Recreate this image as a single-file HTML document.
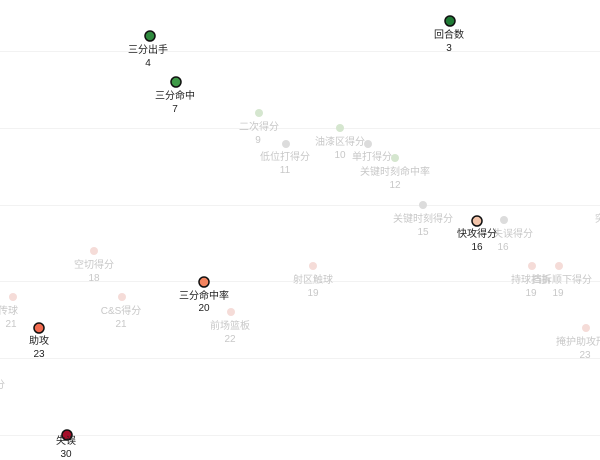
<!DOCTYPE html>
<html><head><meta charset="utf-8"><style>
html,body{margin:0;padding:0;background:#fff;width:600px;height:460px;overflow:hidden}
text{font-family:"Liberation Sans","Noto Sans CJK SC",sans-serif;font-size:10px;text-anchor:middle}
.f{fill:#c8c8c8}.b{fill:#222}
</style></head><body>
<svg width="600" height="460" xmlns="http://www.w3.org/2000/svg">
<g stroke="#f2f2f2" stroke-width="1">
<line x1="0" y1="51.5" x2="600" y2="51.5"/><line x1="0" y1="128.5" x2="600" y2="128.5"/>
<line x1="0" y1="205.5" x2="600" y2="205.5"/><line x1="0" y1="281.5" x2="600" y2="281.5"/>
<line x1="0" y1="358.5" x2="600" y2="358.5"/><line x1="0" y1="435.5" x2="600" y2="435.5"/>
</g>
<g>
<circle cx="259" cy="113" r="4" fill="#d5e6cf"/><text class="f" x="259" y="130">二次得分</text><text class="f" x="258" y="143">9</text>
<circle cx="286" cy="144" r="4" fill="#dcdcdc"/><text class="f" x="285" y="160">低位打得分</text><text class="f" x="285" y="173">11</text>
<circle cx="340" cy="128" r="4" fill="#d5e6cf"/><text class="f" x="340" y="145">油漆区得分</text><text class="f" x="340" y="158">10</text>
<circle cx="368" cy="144" r="4" fill="#dcdcdc"/><text class="f" x="372" y="160">单打得分</text>
<circle cx="395" cy="158" r="4" fill="#d5e6cf"/><text class="f" x="395" y="175">关键时刻命中率</text><text class="f" x="395" y="188">12</text>
<circle cx="423" cy="205" r="4" fill="#dcdcdc"/><text class="f" x="423" y="222">关键时刻得分</text><text class="f" x="423" y="235">15</text>
<circle cx="504" cy="220" r="4" fill="#dcdcdc"/><text class="f" x="513" y="237">失误得分</text><text class="f" x="503" y="250">16</text>
<text class="f" x="600" y="222">突</text>
<circle cx="94" cy="251" r="4" fill="#f5dcd8"/><text class="f" x="94" y="268">空切得分</text><text class="f" x="94" y="281">18</text>
<circle cx="313" cy="266" r="4" fill="#f5dcd8"/><text class="f" x="313" y="283">射区触球</text><text class="f" x="313" y="296">19</text>
<circle cx="532" cy="266" r="4" fill="#f5dcd8"/><text class="f" x="531" y="283">持球挡拆</text><text class="f" x="531" y="296">19</text>
<circle cx="559" cy="266" r="4" fill="#f5dcd8"/><text class="f" x="562" y="283">挡拆顺下得分</text><text class="f" x="558" y="296">19</text>
<circle cx="13" cy="297" r="4" fill="#f5dcd8"/><text class="f" x="8" y="314">传球</text><text class="f" x="11" y="327">21</text>
<circle cx="122" cy="297" r="4" fill="#f5dcd8"/><text class="f" x="121" y="314">C&amp;S得分</text><text class="f" x="121" y="327">21</text>
<circle cx="231" cy="312" r="4" fill="#f5dcd8"/><text class="f" x="230" y="329">前场篮板</text><text class="f" x="230" y="342">22</text>
<circle cx="586" cy="328" r="4" fill="#f5dcd8"/><text class="f" x="586" y="345">掩护助攻形成</text><text class="f" x="585" y="358">23</text>
<text class="f" x="0" y="388">分</text>
</g>
<g stroke="#111" stroke-width="1.5">
<circle cx="150" cy="36" r="5" fill="#2f8a3e"/>
<circle cx="176" cy="82" r="5" fill="#3f9a48"/>
<circle cx="450" cy="21" r="5" fill="#1f7a35"/>
<circle cx="477" cy="221" r="5" fill="#f3c4aa"/>
<circle cx="204" cy="282" r="5" fill="#f4845f"/>
<circle cx="39" cy="328" r="5" fill="#f26b50"/>
<circle cx="67" cy="435" r="5" fill="#a50f2a"/>
</g>
<g>
<text class="b" x="148" y="53">三分出手</text><text class="b" x="148" y="66">4</text>
<text class="b" x="175" y="99">三分命中</text><text class="b" x="175" y="112">7</text>
<text class="b" x="449" y="38">回合数</text><text class="b" x="449" y="51">3</text>
<text class="b" x="477" y="237">快攻得分</text><text class="b" x="477" y="250">16</text>
<text class="b" x="204" y="299">三分命中率</text><text class="b" x="204" y="311">20</text>
<text class="b" x="39" y="344">助攻</text><text class="b" x="39" y="357">23</text>
<text class="b" x="66" y="444">失误</text><text class="b" x="66" y="457">30</text>
</g>
</svg>
</body></html>
